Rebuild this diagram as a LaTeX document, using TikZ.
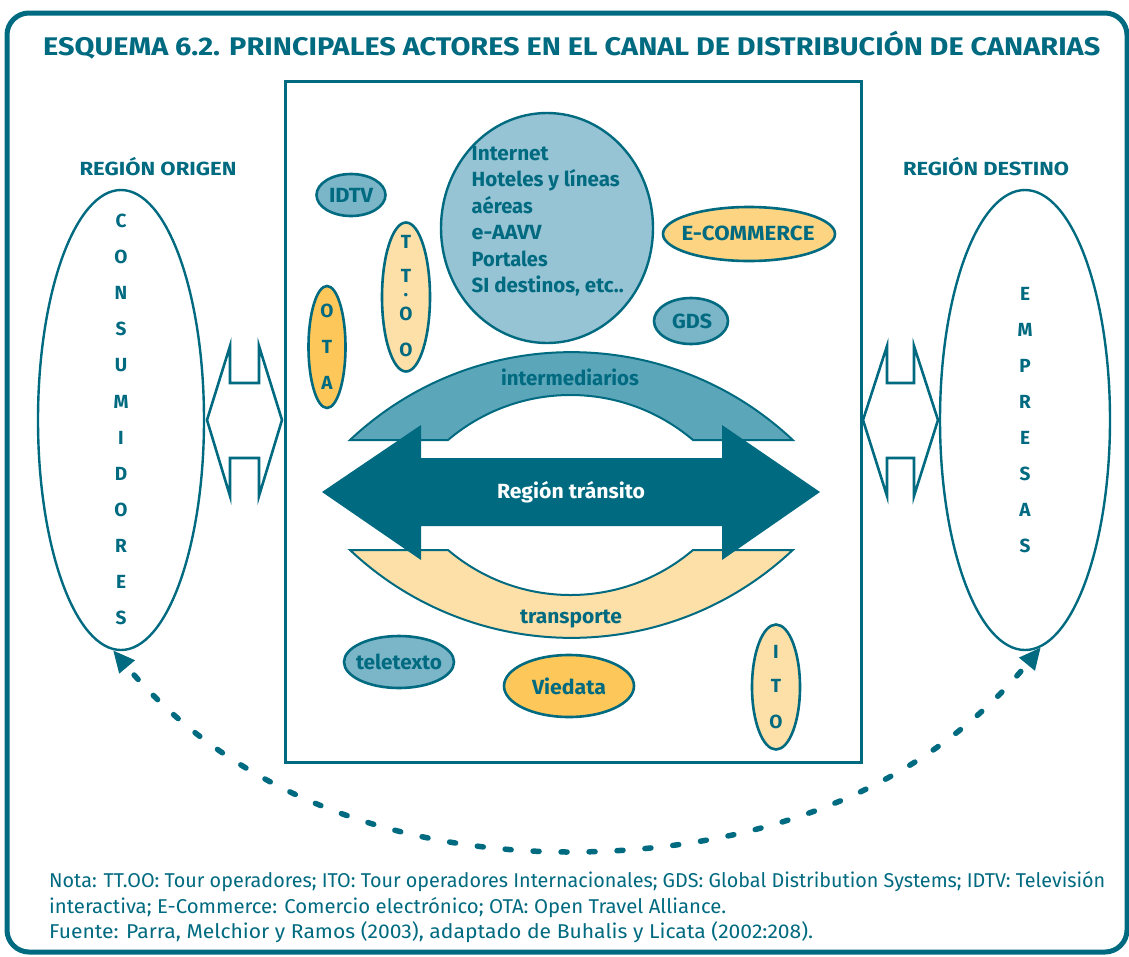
\documentclass[tikz,border=0pt]{standalone}
\usepackage{fontspec}
\setmainfont{Fira Sans}
\usepackage{graphicx}
\usetikzlibrary{arrows.meta,shapes.geometric}
\definecolor{tealc}{RGB}{0,106,128}
\definecolor{midblue}{RGB}{123,181,200}
\definecolor{paleblue}{RGB}{150,196,212}
\definecolor{bandblue}{RGB}{92,166,186}
\definecolor{lightorange}{RGB}{253,223,168}
\definecolor{orangec}{RGB}{254,199,90}
\definecolor{ecomorange}{RGB}{253,213,130}
\newcommand\fw[2]{\resizebox{#1pt}{\height}{#2}}
\begin{document}
\begin{tikzpicture}[x=1pt,y=1pt,
  lab/.style={font=\fontsize{19}{22}\selectfont\bfseries, text=tealc, inner sep=0pt},
  biglab/.style={font=\fontsize{20.5}{24}\selectfont\bfseries, text=tealc, inner sep=0pt, anchor=base west},
  notelab/.style={font=\fontsize{20}{24}\selectfont, text=tealc, inner sep=0pt, anchor=base west},
  bubble/.style={ellipse, draw=tealc, line width=2.6pt, inner sep=0pt},
  bigell/.style={ellipse, draw=tealc, line width=2.4pt, inner sep=0pt},
  outarrow/.style={draw=tealc, line width=2.6pt, line join=miter},
  band/.style={draw=tealc, line width=2pt}]
\useasboundingbox (0,0) rectangle (1129,-956);
% outer frame
\draw[tealc, line width=5pt, rounded corners=22pt] (7,-13) rectangle (1127,-952);
% title
\node[font=\fontsize{25.5}{30}\selectfont\bfseries, text=tealc, inner sep=0pt, anchor=base west] (title) at (43,-55)
  {\fw{1057}{ESQUEMA 6.2. PRINCIPALES ACTORES EN EL CANAL DE DISTRIBUCIÓN DE CANARIAS}};
% inner box
\draw[tealc, line width=3pt] (285,-81) rectangle (861,-762);
% region labels
\node[lab, anchor=base] (origen) at (158,-175) {\fw{157}{REGIÓN ORIGEN}};
\node[lab, anchor=base] (destino) at (986,-175) {\fw{166}{REGIÓN DESTINO}};
% big side ellipses
\node[bigell, minimum width=166pt, minimum height=460pt] (cons) at (121,-420) {};
\node[bigell, minimum width=170pt, minimum height=460pt] (emp) at (1025,-420) {};
\foreach \l [count=\i] in {C,O,N,S,U,M,I,D,O,R,E,S}
  \node[lab] (c\i) at (121,{-221-(\i-1)*36.1}) {\l};
\foreach \l [count=\i] in {E,M,P,R,E,S,A,S}
  \node[lab] (e\i) at (1025,{-294-(\i-1)*36}) {\l};
% outline double arrows
\draw[outarrow] (207,-420) -- (230,-346) -- (230,-383) -- (259,-383) -- (259,-346) -- (282,-420)
  -- (259,-496) -- (259,-458) -- (230,-458) -- (230,-496) -- cycle;
\draw[outarrow] (863,-420) -- (887,-346) -- (887,-383) -- (914,-383) -- (914,-346) -- (938,-420)
  -- (914,-496) -- (914,-458) -- (887,-458) -- (887,-496) -- cycle;
% big ellipse with text
\node[bubble, fill=paleblue, line width=2.4pt, minimum width=212pt, minimum height=230pt] (big) at (547,-228) {};
\node[biglab] (b1) at (471.5,-160) {\fw{77}{Internet}};
\node[biglab] (b2) at (471.5,-186.5) {\fw{148}{Hoteles y líneas}};
\node[biglab] (b3) at (471.5,-213) {\fw{61}{aéreas}};
\node[biglab] (b4) at (471.5,-239.5) {\fw{70}{e-AAVV}};
\node[biglab] (b5) at (471.5,-266) {\fw{76}{Portales}};
\node[biglab] (b6) at (471.5,-292.5) {\fw{152}{SI destinos, etc..}};
% small ellipses
\node[bubble, fill=midblue, minimum width=69pt, minimum height=42pt] (idtv) at (351,-195) {};
\node[lab, font=\fontsize{20.5}{24}\selectfont\bfseries] (idtvt) at (idtv.center) {\fw{44}{IDTV}};
\node[bubble, fill=ecomorange, minimum width=172pt, minimum height=54pt] (ecom) at (749,-234) {};
\node[lab, font=\fontsize{20.5}{24}\selectfont\bfseries] (ecomt) at (748,-233) {\fw{133}{E-COMMERCE}};
\node[bubble, fill=midblue, minimum width=74pt, minimum height=46pt] (gds) at (691,-321) {};
\node[lab, font=\fontsize{20.5}{24}\selectfont\bfseries] (gdst) at (692,-321) {\fw{40}{GDS}};
\node[bubble, fill=lightorange, minimum width=48pt, minimum height=149pt] (ttoo) at (406,-297) {};
\node[lab] (t1) at (406,-242) {T};
\node[lab] (t2) at (406,-276) {T};
\node[lab] (t3) at (406,-295.5) {.};
\node[lab] (t4) at (406,-314) {O};
\node[lab] (t5) at (406,-350) {O};
\node[bubble, fill=orangec, minimum width=37pt, minimum height=122pt] (ota) at (327,-347) {};
\node[lab] (o1) at (327,-311) {O};
\node[lab] (o2) at (327,-347) {T};
\node[lab] (o3) at (327,-383) {A};
\node[bubble, fill=midblue, minimum width=110pt, minimum height=52pt] (tele) at (399,-662) {};
\node[lab, font=\fontsize{20.5}{24}\selectfont\bfseries] (telet) at (tele.center) {\fw{86}{teletexto}};
\node[bubble, fill=orangec, minimum width=130pt, minimum height=62pt] (vied) at (569,-686) {};
\node[lab, font=\fontsize{20.5}{24}\selectfont\bfseries] (viedt) at (vied.center) {\fw{74}{Viedata}};
\node[bubble, fill=lightorange, minimum width=48pt, minimum height=125pt] (ito) at (776,-687) {};
\node[lab] (i1) at (776,-652) {I};
\node[lab] (i2) at (776,-686) {T};
\node[lab] (i3) at (776,-722) {O};
% bands
\draw[band, fill=bandblue] (350,-440) arc[start angle=133.3, end angle=46.7, radius=322.8]
  -- (693,-440) arc[start angle=49.65, end angle=130.35, radius=189.2] -- cycle;
\draw[band, fill=lightorange] (350,-550) arc[start angle=-133.3, end angle=-46.7, radius=322.8]
  -- (693,-550) arc[start angle=-49.65, end angle=-130.35, radius=189.2] -- cycle;
\node[lab, font=\fontsize{20.5}{24}\selectfont\bfseries, anchor=base] (interm) at (570,-385) {\fw{138}{intermediarios}};
\node[lab, font=\fontsize{20.5}{24}\selectfont\bfseries, anchor=base] (transp) at (571,-623) {\fw{102}{transporte}};
% central double arrow
\fill[tealc] (322,-492) -- (421,-425) -- (421,-458) -- (722,-458) -- (722,-425) -- (820,-492)
  -- (722,-560) -- (722,-526) -- (421,-526) -- (421,-560) -- cycle;
\node[lab, text=white, font=\fontsize{20.5}{24}\selectfont\bfseries, anchor=base] (transito) at (571,-498) {\fw{148}{Región tránsito}};
% dashed curve
\draw[tealc, line width=5.5pt, line cap=round, dash pattern=on 6pt off 22pt, dash phase=16pt,
  {Triangle[length=22pt,width=19pt]}-{Triangle[length=22pt,width=19pt]}]
  (cons.268) .. controls (235,-795) and (400,-852) .. (570,-852)
  .. controls (740,-852) and (915,-800) .. (emp.274);
% notes
\node[notelab] (n1) at (49,-887) {\fw{1056}{Nota: TT.OO: Tour operadores; ITO: Tour operadores Internacionales; GDS: Global Distribution Systems; IDTV: Televisión}};
\node[notelab] (n2) at (49,-913) {\fw{677}{interactiva; E-Commerce: Comercio electrónico; OTA: Open Travel Alliance.}};
\node[notelab] (n3) at (49,-938) {\fw{764}{Fuente: Parra, Melchior y Ramos (2003), adaptado de Buhalis y Licata (2002:208).}};
\end{tikzpicture}
\end{document}
